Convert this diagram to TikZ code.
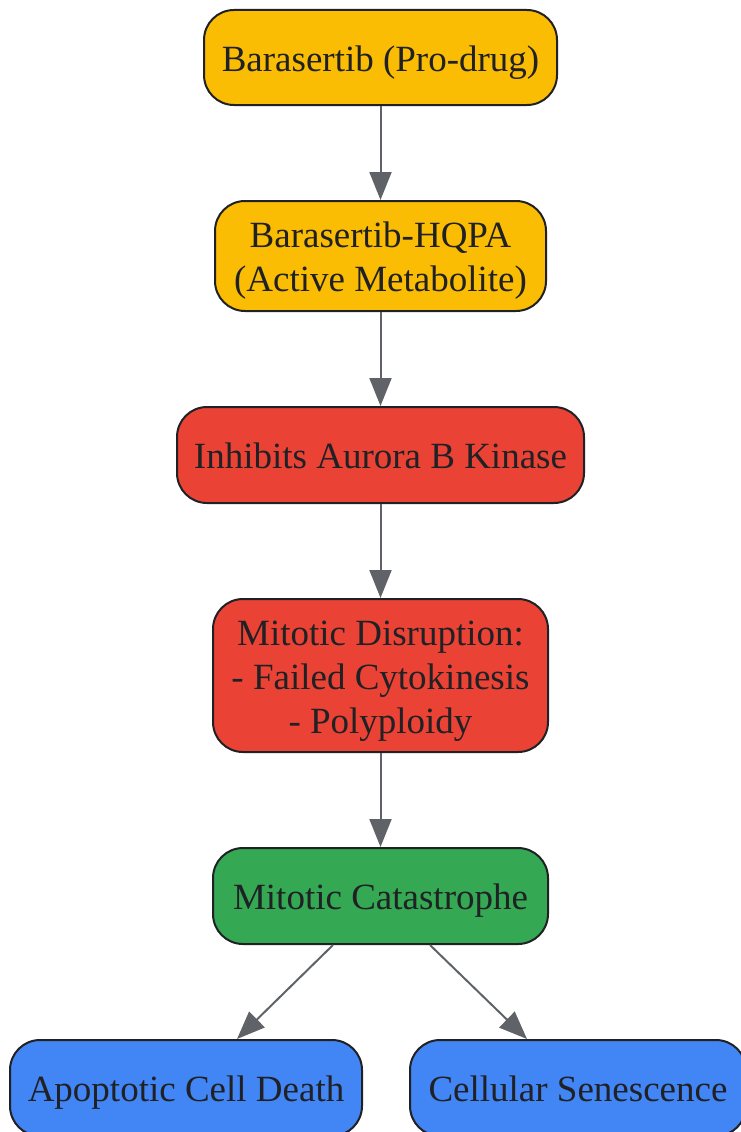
\documentclass[tikz,border=0pt]{standalone}
\usepackage{fontspec}
\setmainfont{Liberation Serif}
\usetikzlibrary{arrows.meta}
\definecolor{gyellow}{HTML}{FBBC04}
\definecolor{gred}{HTML}{EA4335}
\definecolor{ggreen}{HTML}{34A853}
\definecolor{gblue}{HTML}{4285F4}
\definecolor{boxborder}{HTML}{202124}
\definecolor{textcol}{HTML}{202124}
\definecolor{arrowcol}{HTML}{5F6368}
\newcommand{\lowstrut}{\rule{0pt}{35pt}}
\newcommand{\deepstrut}{\rule[-8pt]{0pt}{43pt}}
\begin{document}
\begin{tikzpicture}[x=1pt,y=-1pt,
 box/.style={draw=boxborder, line width=2pt, rounded corners=30pt, text=textcol,
   font=\fontsize{37}{44}\selectfont, align=center, inner sep=0pt},
 arr/.style={draw=arrowcol, line width=2pt, -{Triangle[length=28pt,width=22pt]}}]
\useasboundingbox (0,0) rectangle (741,1132);
\clip (0,0) rectangle (741,1132);
\node[box, fill=gyellow, minimum width=353pt, minimum height=95pt] (n1) at (380.5,57.5) {\deepstrut Barasertib (Pro-drug)};
\node[box, fill=gyellow, minimum width=331pt, minimum height=110pt] (n2) at (380.5,256) {\lowstrut Barasertib-HQPA\\(Active Metabolite)};
\node[box, fill=gred, minimum width=407pt, minimum height=96pt] (n3) at (380.5,455) {\deepstrut Inhibits Aurora B Kinase};
\node[box, fill=gred, minimum width=335pt, minimum height=153pt] (n4) at (380.5,675.5) {\lowstrut Mitotic Disruption:\\- Failed Cytokinesis\\- Polyploidy};
\node[box, fill=ggreen, minimum width=335pt, minimum height=96pt] (n5) at (380.5,896) {\deepstrut Mitotic Catastrophe};
\node[box, fill=gblue, minimum width=352pt, minimum height=96pt] (n6) at (186,1088) {\deepstrut Apoptotic Cell Death};
\node[box, fill=gblue, minimum width=336pt, minimum height=96pt] (n7) at (578,1088) {\deepstrut Cellular Senescence};
\draw[arr] (n1) -- (n2);
\draw[arr] (n2) -- (n3);
\draw[arr] (n3) -- (n4);
\draw[arr] (n4) -- (n5);
\draw[arr] ([xshift=-47.5pt]n5.south) -- ([xshift=51pt]n6.north);
\draw[arr] ([xshift=49.5pt]n5.south) -- ([xshift=-51pt]n7.north);
\end{tikzpicture}
\end{document}
